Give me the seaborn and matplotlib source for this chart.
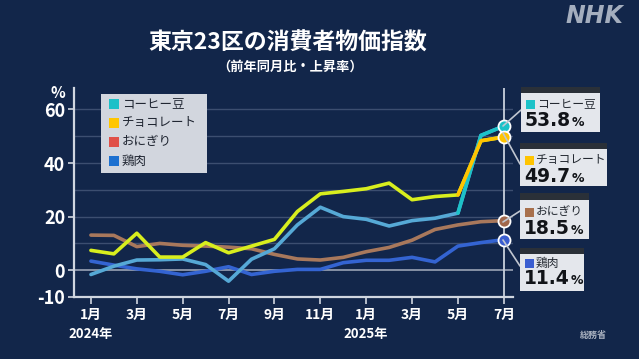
import matplotlib
matplotlib.use("Agg")
import matplotlib.pyplot as plt
from matplotlib.patches import Rectangle
from matplotlib.lines import Line2D
import seaborn as sns
import pandas as pd
import numpy as np

# ---- data ----
months = list(range(19))  # Jan 2024 .. Jul 2025
coffee = [-1.6, 1.5, 3.8, 3.9, 4.2, 2.1, -4.1, 4.1, 8.0, 16.9, 23.5, 20.0, 19.0, 16.5, 18.5, 19.4, 21.3, 50.3, 53.8]
chocolate = [7.4, 6.1, 13.8, 4.9, 4.9, 10.3, 6.5, 9.0, 11.5, 21.9, 28.5, 29.4, 30.4, 32.5, 26.3, 27.5, 28.1, 48.3, 49.7]
onigiri = [13.1, 13.0, 8.8, 10.0, 9.3, 9.0, 8.6, 8.0, 5.9, 4.2, 3.8, 4.8, 6.9, 8.5, 11.2, 15.2, 16.9, 18.1, 18.5]
chicken = [3.4, 1.9, 0.5, -0.4, -1.7, -0.4, 1.3, -1.6, -0.4, 0.3, 0.3, 2.8, 3.7, 3.7, 4.8, 3.1, 9.0, 10.3, 11.4]
series_names = ["コーヒー豆", "チョコレート", "おにぎり", "鶏肉"]
tick_pos = [0, 2, 4, 6, 8, 10, 12, 14, 16, 18]
tick_labels = ["1月", "3月", "5月", "7月", "9月", "11月", "1月", "3月", "5月", "7月"]
year_labels = ["2024年", "2025年"]
year_pos = [0, 12]
y_ticks = [60, 40, 20, 0, -10]
end_values = ["53.8", "49.7", "18.5", "11.4"]

BG = "#12264a"
line_colors = {"コーヒー豆": "#56a9d6", "チョコレート": "#d8ee1e", "おにぎり": "#a8785c", "鶏肉": "#3464d2"}
end_colors = {"コーヒー豆": "#1cc2c8", "チョコレート": "#ffc400", "おにぎり": "#a0684c", "鶏肉": "#3a5ed0"}
legend_colors = {"コーヒー豆": "#1cc0c8", "チョコレート": "#ffc600", "おにぎり": "#e05048", "鶏肉": "#1c70d0"}

df = pd.DataFrame({
    "month": months * 4,
    "value": coffee + chocolate + onigiri + chicken,
    "item": sum([[n] * 19 for n in series_names], []),
})

sns.set_theme(style="dark")
plt.rcParams["font.family"] = ["Noto Sans CJK JP", "DejaVu Sans"]

W, H = 639, 359
fig = plt.figure(figsize=(W / 100, H / 100), dpi=100, facecolor=BG)

def fx(px):
    return px / W

def fy(py):
    return 1 - py / H

ax = fig.add_axes([fx(73.5), fy(297), fx(513) - fx(73.5), fy(88) - fy(297)])
ax.set_facecolor(BG)
ax.set_xlim(-0.76, 18.4)
ax.set_ylim(-10, 68)

# grid lines
for g in [10, 20, 30, 40, 50, 60]:
    ax.axhline(g, color="#3c4e70", lw=1.0, zorder=1)
ax.axhline(0, color="#9aa4b6", lw=1.2, zorder=1)
ax.axvline(18, color="#c8d0dc", lw=1.3, zorder=2)

order = ["おにぎり", "鶏肉", "コーヒー豆", "チョコレート"]
for name in order:
    sub = df[df["item"] == name]
    sns.lineplot(data=sub, x="month", y="value", ax=ax, color=line_colors[name], lw=2.6, zorder=3, legend=False)
for name in ["コーヒー豆", "チョコレート"]:
    sub = df[(df["item"] == name) & (df["month"] >= 16)]
    sns.lineplot(data=sub, x="month", y="value", ax=ax, color=end_colors[name], lw=2.6, zorder=4, legend=False)

# end markers
for name in series_names:
    sub = df[(df["item"] == name) & (df["month"] == 18)]
    ax.scatter(sub["month"], sub["value"], s=75, color=end_colors[name], edgecolor="white", linewidth=1.3, zorder=6, clip_on=False)

# axes styling
for s in ["top", "right"]:
    ax.spines[s].set_visible(False)
for s in ["left", "bottom"]:
    ax.spines[s].set_visible(True)
    ax.spines[s].set_color("#d0d6e0")
    ax.spines[s].set_linewidth(1.6)
ax.set_xticks(tick_pos)
ax.set_xticklabels(tick_labels)
ax.set_yticks(y_ticks)
ax.set_yticklabels([str(v) for v in y_ticks])
ax.tick_params(axis="x", colors="#d0d6e0", labelcolor="white", length=5, width=1.2, direction="out", pad=3, labelsize=10, bottom=True)
ax.tick_params(axis="y", colors="#d0d6e0", labelcolor="white", length=4, width=1.2, direction="out", pad=2, labelsize=13, left=True)
for t in ax.get_xticklabels() + ax.get_yticklabels():
    t.set_fontweight("bold")
ax.set_xlabel("")
ax.set_ylabel("")
ax.grid(False)

for lab, pos in zip(year_labels, year_pos):
    xpx = ax.transData.transform((pos, 0))[0]
    fig.text(xpx / W, fy(334), lab, ha="center", va="center", color="white", fontsize=9.5, fontweight="bold")

fig.text(fx(58), fy(93), "%", ha="center", va="center", color="white", fontsize=11, fontweight="bold")

# title
fig.text(fx(288), fy(43), "東京23区の消費者物価指数", ha="center", va="center", color="white", fontsize=16.5, fontweight="bold")
fig.text(fx(290), fy(67), "（前年同月比・上昇率）", ha="center", va="center", color="white", fontsize=9.5, fontweight="bold")

# NHK logo
fig.text(fx(594), fy(16), "NHK", ha="center", va="center", color="#a4aebe", fontsize=17, fontweight="bold", style="italic", family="DejaVu Sans")
fig.text(fx(593), fy(335), "総務省", ha="center", va="center", color="#aab2c0", fontsize=6.5, fontweight="bold")

# legend box
fig.patches.append(Rectangle((fx(101), fy(173)), fx(207) - fx(101), fy(94) - fy(173), transform=fig.transFigure, facecolor="#d2d6de", edgecolor="none", zorder=10))
leg_y = [104, 123, 142, 161]
for name, yy in zip(series_names, leg_y):
    fig.patches.append(Rectangle((fx(108.5), fy(yy + 5)), fx(10), fy(0) - fy(10), transform=fig.transFigure, facecolor=legend_colors[name], edgecolor="none", zorder=11))
    fig.text(fx(122), fy(yy), name, ha="left", va="center", color="#1e2430", fontsize=9, zorder=12)

# callouts
boxes = [
    (521, 600, 87, 93, 132, 104, 121, (503, 126, 521, 110)),
    (520, 607, 143, 149, 186, 160, 177, (503, 133, 520, 164)),
    (520, 589, 193, 200, 239, 212, 229, (503, 222, 520, 211)),
    (520, 584, 248, 254, 291, 263, 279, (503, 240, 520, 266)),
]
for name, val, b in zip(series_names, end_values, boxes):
    x0, x1, bt, bb, bot, ly, ny, ln = b
    fig.patches.append(Rectangle((fx(x0), fy(bb)), fx(x1) - fx(x0), fy(bt) - fy(bb), transform=fig.transFigure, facecolor="#2a3038", edgecolor="none", zorder=10))
    fig.patches.append(Rectangle((fx(x0), fy(bot)), fx(x1) - fx(x0), fy(bb) - fy(bot), transform=fig.transFigure, facecolor="#e4e7ec", edgecolor="none", zorder=10))
    fig.lines.append(Line2D([fx(ln[0]), fx(ln[2])], [fy(ln[1]), fy(ln[3])], transform=fig.transFigure, color="#c0c6d0", lw=1.2, zorder=9))
    fig.patches.append(Rectangle((fx(x0 + 5), fy(ly + 4.5)), fx(9), fy(0) - fy(9), transform=fig.transFigure, facecolor=end_colors[name] if name != "おにぎり" else "#a8704c", edgecolor="none", zorder=11))
    fig.text(fx(x0 + 16), fy(ly), name, ha="left", va="center", color="#222830", fontsize=8.5, zorder=12)
    t = fig.text(fx(x0 + 4), fy(ny), val, ha="left", va="center", color="#111418", fontsize=13.5, fontweight="bold", zorder=12, family="DejaVu Sans")
    fig.canvas.draw()
    bbox = t.get_window_extent()
    fig.text(bbox.x1 / W + fx(1), fy(ny + 1.5), "%", ha="left", va="center", color="#111418", fontsize=9, fontweight="bold", zorder=12, family="DejaVu Sans")

fig.savefig("out.png", dpi=100, facecolor=BG)
